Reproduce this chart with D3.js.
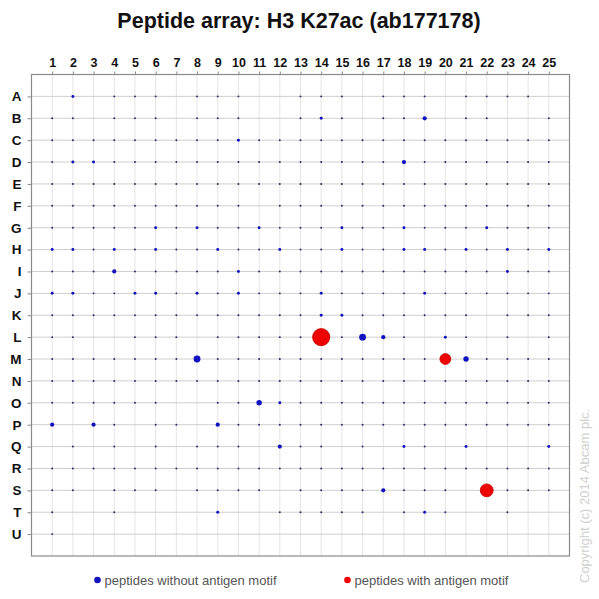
<!DOCTYPE html>
<html>
<head>
<meta charset="utf-8">
<script src="https://cdn.jsdelivr.net/npm/d3@7"></script>
<style>
  body { margin: 0; background: #fff; }
  text { font-family: Arial, "Liberation Sans", sans-serif; }
</style>
</head>
<body>
<script>
// columns and rows of the array
const columns = d3.range(1, 26);
const rows = ["A","B","C","D","E","F","G","H","I","J","K","L","M","N","O","P","Q","R","S","T","U"];

// spot size read per cell: "." none, 1 tiny ... 5 bigger
const spotCodes = [
  ".2.111.111..111.111.1111.", // A
  "11.111.111..121.113.11..1", // B
  "1111111112111111111111111", // C
  "1221111111111111131111111", // D
  "1111111111111111111111111", // E
  "1111111111.11111111111111", // F
  "1111121211211121121112111", // G
  "2212121121121121122121212", // H
  "1113111112111111111111211", // I
  "2211221212111211112111111", // J
  "111111111111122111111.111", // K
  "11..111.11111.1531.21.1.1", // L
  "1111111511111111111.41111", // M
  "1111111111111111111111111", // N
  "111111..11421111111111111", // O
  "3.31.11.31111111111111111", // P
  ".1.1.1.111.311.1.21.2...2", // Q
  "1111111111111111111111111", // R
  "11.111.1111.111131110.111", // S
  "1..1....2..11111.121..1..", // T
  "1........................"  // U
];
// signal that each code stands for
const codeSignal = { "1": 1.3, "2": 3, "3": 6, "4": 10, "5": 16 };

// peptides with antigen motif (row, column, signal)
const motifSpots = [
  { row: "L", col: 14, signal: 100 },
  { row: "M", col: 20, signal: 40 },
  { row: "S", col: 22, signal: 56 }
];

const title = "Peptide array: H3 K27ac (ab177178)";
const legendLabels = ["peptides without antigen motif", "peptides with antigen motif"];

const width = 599, height = 599;
const margin = { top: 74.5, right: 29.5, bottom: 43, left: 31.5 };

const svg = d3.select("body").append("svg")
  .attr("width", width)
  .attr("height", height);

const x = d3.scaleLinear().domain([0, 26]).range([margin.left, width - margin.right]);
const y = d3.scaleLinear().domain([0, 22]).range([margin.top, height - margin.bottom]);
const r = d3.scaleSqrt().domain([0, 100]).range([0, 8.6]);

// grid lines
svg.append("g").selectAll("line.v")
  .data(columns).join("line")
  .attr("x1", d => x(d)).attr("x2", d => x(d))
  .attr("y1", y(0)).attr("y2", y(22))
  .attr("stroke", "#e4e4e4").attr("stroke-width", 1);

svg.append("g").selectAll("line.h")
  .data(rows).join("line")
  .attr("x1", x(0)).attr("x2", x(26))
  .attr("y1", (d, i) => y(i + 1)).attr("y2", (d, i) => y(i + 1))
  .attr("stroke", "#cfcfcf").attr("stroke-width", 1);

// frame
svg.append("rect")
  .attr("x", x(0)).attr("y", y(0))
  .attr("width", x(26) - x(0)).attr("height", y(22) - y(0))
  .attr("fill", "none").attr("stroke", "#8a8a8a").attr("stroke-width", 1.2);

// top axis with column numbers
const xAxis = d3.axisTop(x).tickValues(columns).tickSize(3).tickPadding(5).tickFormat(d3.format("d"));
const gx = svg.append("g").attr("transform", `translate(0,${y(0)})`).call(xAxis);
gx.select(".domain").remove();
gx.selectAll("line").attr("stroke", "#8a8a8a");
gx.selectAll("text").attr("font-size", 12.5).attr("font-weight", "bold").attr("fill", "#111");

// left axis with row letters
const yBand = d3.scalePoint().domain(rows).range([y(1), y(21)]);
const yAxis = d3.axisLeft(yBand).tickSize(4).tickPadding(6);
const gy = svg.append("g").attr("transform", `translate(${x(0)},0)`).call(yAxis);
gy.select(".domain").remove();
gy.selectAll("line").attr("stroke", "#8a8a8a");
gy.selectAll("text").attr("font-size", 13.5).attr("font-weight", "bold").attr("fill", "#111");

// spots without motif
const spots = [];
spotCodes.forEach((code, i) => {
  code.split("").forEach((c, j) => {
    if (codeSignal[c]) spots.push({ row: rows[i], col: j + 1, signal: codeSignal[c] });
  });
});
const motifKeys = new Set(motifSpots.map(d => d.row + d.col));

svg.append("g").selectAll("circle")
  .data(spots.filter(d => !motifKeys.has(d.row + d.col)))
  .join("circle")
  .attr("cx", d => x(d.col))
  .attr("cy", d => yBand(d.row))
  .attr("r", d => r(d.signal))
  .attr("fill", d => d.signal < 2 ? "#2a2a6a" : "#1212c0");

svg.append("g").selectAll("circle")
  .data(motifSpots)
  .join("circle")
  .attr("cx", d => x(d.col))
  .attr("cy", d => yBand(d.row))
  .attr("r", d => r(d.signal))
  .attr("fill", "#ee0000")
  .attr("stroke", "#c80000").attr("stroke-width", 0.8);

// title
svg.append("text")
  .attr("x", 299).attr("y", 28)
  .attr("text-anchor", "middle")
  .attr("font-size", 21.5).attr("font-weight", "bold").attr("fill", "#111")
  .text(title);

// legend
const legend = svg.append("g").selectAll("g")
  .data(legendLabels).join("g")
  .attr("transform", (d, i) => `translate(${i === 0 ? 97.5 : 347.5},580)`);
legend.append("circle")
  .attr("r", 3.3)
  .attr("fill", (d, i) => i === 0 ? "#1212c0" : "#ee0000");
legend.append("text")
  .attr("x", 7).attr("y", 4.5)
  .attr("font-size", 13).attr("fill", "#555")
  .text(d => d);

// copyright
svg.append("text")
  .attr("transform", "translate(589,583) rotate(-90)")
  .attr("font-size", 13).attr("fill", "#d0d0d0")
  .text("Copyright (c) 2014  Abcam plc.");
</script>
</body>
</html>
